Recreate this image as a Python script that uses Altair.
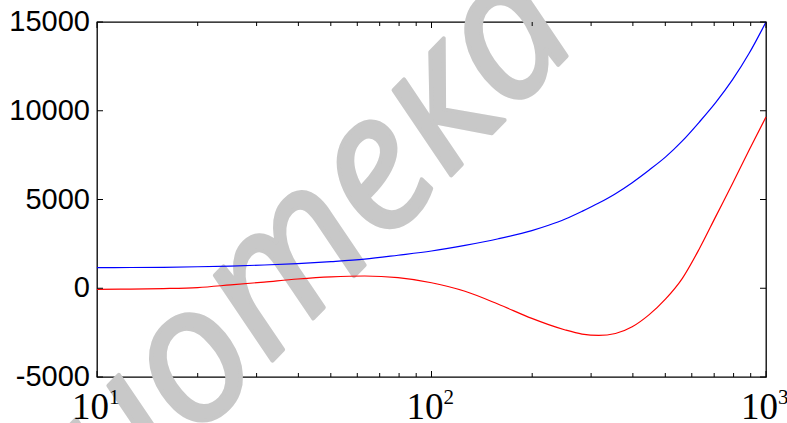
import altair as alt
import pandas as pd

# Frequency grid (log axis) and the two response curves
freq = [10, 12.6, 15.8, 20, 25.1, 31.6, 39.8, 50.1, 63.1, 79.4, 100, 125.9, 158.5,
        199.5, 223.9, 251.2, 281.8, 316.2, 354.8, 398.1, 446.7, 501.2, 562.3, 631,
        707.9, 794.3, 891.3, 1000]
blue_vals = [1166, 1168, 1180, 1210, 1250, 1310, 1390, 1500, 1640, 1860, 2100, 2420,
             2790, 3250, 3550, 3900, 4330, 4800, 5330, 5950, 6650, 7400, 8300, 9350,
             10470, 11750, 13250, 15000]
red_vals = [-60, -50, -20, 40, 190, 350, 520, 640, 690, 600, 310, -170, -900, -1700,
            -2050, -2350, -2580, -2660, -2550, -2170, -1500, -600, 560, 2200, 4050,
            5900, 7800, 9650]

y_ticks = [-5000, 0, 5000, 10000, 15000]
y_labels = ["-5000", "0", "5000", "10000", "15000"]
x_major = [10, 100, 1000]
x_exponents = ["1", "2", "3"]
x_minor = [20, 30, 40, 50, 60, 70, 80, 90, 200, 300, 400, 500, 600, 700, 800, 900]
watermark = "библиотека"

W, H = 669, 355

curves = pd.DataFrame({
    "f": freq * 2,
    "v": blue_vals + red_vals,
    "s": ["blue"] * len(freq) + ["red"] * len(freq),
})
ydf = pd.DataFrame({"v": y_ticks, "lab": y_labels})
xmaj = pd.DataFrame({"f": x_major, "e": x_exponents, "b": ["10"] * 3})
xmin = pd.DataFrame({"f": x_minor})
wm = pd.DataFrame({"t": [watermark]})

xs = alt.Scale(type="log", domain=[10, 1000], nice=False)
ys = alt.Scale(domain=[-5000, 15000], nice=False, zero=False)

X = lambda: alt.X("f:Q", scale=xs, axis=None)
Y = lambda: alt.Y("v:Q", scale=ys, axis=None)

# light grey watermark behind the curves
wm_layer = alt.Chart(wm).mark_text(
    align="right", baseline="alphabetic", angle=314, fontSize=188,
    font="Open Sans", fontStyle="italic", color="#c8c8c8",
    stroke="#c8c8c8", strokeWidth=4, strokeJoin="round",
).encode(x=alt.value(487), y=alt.value(16), text="t:N")

lines = alt.Chart(curves).mark_line(strokeWidth=1.2, interpolate="monotone").encode(
    x=X(), y=Y(),
    color=alt.Color("s:N", scale=alt.Scale(domain=["blue", "red"], range=["#0000ff", "#ff0000"]), legend=None),
    detail="s:N",
)

# inward ticks on all four sides of the box
tick_style = dict(color="black", strokeWidth=1)
bx_major = alt.Chart(xmaj).mark_rule(**tick_style).encode(x=X(), y=alt.value(H), y2=alt.value(H - 6))
tx_major = alt.Chart(xmaj).mark_rule(**tick_style).encode(x=X(), y=alt.value(0), y2=alt.value(6))
bx_minor = alt.Chart(xmin).mark_rule(**tick_style).encode(x=X(), y=alt.value(H), y2=alt.value(H - 4))
tx_minor = alt.Chart(xmin).mark_rule(**tick_style).encode(x=X(), y=alt.value(0), y2=alt.value(4))
ly_ticks = alt.Chart(ydf).mark_rule(**tick_style).encode(y=Y(), x=alt.value(0), x2=alt.value(6))
ry_ticks = alt.Chart(ydf).mark_rule(**tick_style).encode(y=Y(), x=alt.value(W), x2=alt.value(W - 6))

y_text = alt.Chart(ydf).mark_text(
    align="right", baseline="middle", fontSize=29, font="Liberation Sans", color="black",
).encode(y=Y(), x=alt.value(-7), text="lab:N")

# decade labels as 10 with a raised exponent
x_base = alt.Chart(xmaj).mark_text(
    align="right", baseline="alphabetic", fontSize=37, font="Liberation Sans Narrow",
    color="black", dx=12,
).encode(x=X(), y=alt.value(397), text="b:N")
x_exp = alt.Chart(xmaj).mark_text(
    align="left", baseline="alphabetic", fontSize=21, font="Liberation Sans Narrow",
    color="black", dx=12,
).encode(x=X(), y=alt.value(382), text="e:N")

chart = alt.layer(
    wm_layer, lines, bx_major, tx_major, bx_minor, tx_minor, ly_ticks, ry_ticks,
    y_text, x_base, x_exp,
).properties(
    width=W, height=H,
    autosize=alt.AutoSizeParams(type="none"),
    padding={"left": 97, "top": 22, "right": 21, "bottom": 46},
    background="white",
).configure_view(stroke="black", strokeWidth=1.3)

chart.save("out.html", embed_options={"renderer": "svg", "actions": False})
